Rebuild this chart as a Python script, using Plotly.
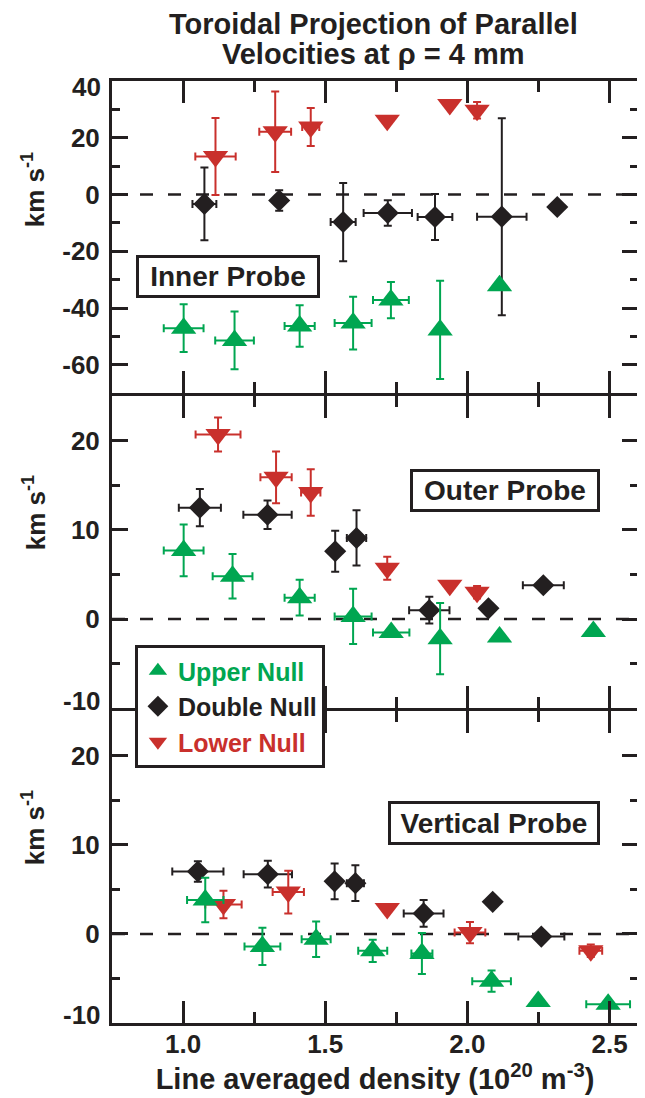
import plotly.graph_objects as go
from plotly.subplots import make_subplots

# ---------------- data ----------------
# Inner Probe (top panel)
inner_upper_x = [1.002, 1.181, 1.410, 1.598, 1.731, 1.904, 2.113]
inner_upper_y = [-47.1, -51.4, -46.3, -45.3, -37.2, -47.7, -32.1]
inner_upper_xerr = [0.070, 0.068, 0.053, 0.065, 0.063, 0, 0]
inner_upper_yerr = [8.4, 10.2, 7.3, 9.3, 6.4, 17.3, 0]

inner_double_x = [1.075, 1.338, 1.563, 1.720, 1.886, 2.121, 2.316]
inner_double_y = [-3.3, -2.1, -9.7, -6.5, -7.9, -7.8, -4.4]
inner_double_xerr = [0.042, 0, 0.044, 0.085, 0.061, 0.087, 0]
inner_double_yerr = [12.8, 3.6, 13.8, 4.5, 8.1, 34.7, 0]

inner_lower_x = [1.114, 1.324, 1.449, 1.718, 1.938, 2.034]
inner_lower_y = [13.4, 22.1, 23.8, 26.2, 31.7, 29.7]
inner_lower_xerr = [0.071, 0.056, 0.030, 0, 0, 0]
inner_lower_yerr = [13.6, 14.2, 6.7, 0, 0, 2.9]

# Outer Probe (middle panel)
outer_upper_x = [1.002, 1.174, 1.410, 1.598, 1.732, 1.904, 2.113, 2.443]
outer_upper_y = [7.7, 4.8, 2.4, 0.3, -1.5, -2.2, -2.0, -1.4]
outer_upper_xerr = [0.070, 0.070, 0.053, 0.065, 0.064, 0, 0, 0]
outer_upper_yerr = [2.9, 2.5, 2.0, 3.1, 0, 4.0, 0, 0]

outer_double_x = [1.059, 1.297, 1.535, 1.610, 1.866, 2.074, 2.267]
outer_double_y = [12.5, 11.7, 7.6, 9.1, 1.0, 1.2, 3.8]
outer_double_xerr = [0.074, 0.085, 0, 0.034, 0.071, 0, 0.072]
outer_double_yerr = [2.1, 1.6, 2.3, 3.1, 1.5, 0, 0]

outer_lower_x = [1.123, 1.327, 1.449, 1.718, 1.938, 2.034]
outer_lower_y = [20.7, 15.9, 14.2, 5.7, 3.8, 3.0]
outer_lower_xerr = [0.079, 0.055, 0.034, 0, 0, 0]
outer_lower_yerr = [1.9, 2.9, 2.6, 1.3, 0, 0.7]

# Vertical Probe (bottom panel)
vert_upper_x = [1.078, 1.279, 1.468, 1.667, 1.840, 2.085, 2.249, 2.495]
vert_upper_y = [3.8, -1.4, -0.6, -1.9, -2.2, -5.3, -7.6, -7.9]
vert_upper_xerr = [0.064, 0.063, 0.051, 0.051, 0.037, 0.068, 0, 0.077]
vert_upper_yerr = [2.5, 2.1, 2.0, 1.25, 2.3, 1.2, 0, 0]

vert_double_x = [1.052, 1.298, 1.533, 1.606, 1.846, 2.089, 2.260]
vert_double_y = [7.0, 6.7, 5.9, 5.7, 2.3, 3.6, -0.3]
vert_double_xerr = [0.090, 0.085, 0, 0.030, 0.070, 0, 0.081]
vert_double_yerr = [1.15, 1.5, 2.0, 2.0, 1.5, 0, 0]

vert_lower_x = [1.142, 1.370, 1.718, 2.009, 2.434]
vert_lower_y = [3.3, 4.7, 2.85, 0.15, -1.9]
vert_lower_xerr = [0.064, 0.055, 0, 0.054, 0.040]
vert_lower_yerr = [1.55, 2.4, 0, 1.2, 0.7]

x_tick_vals = [1.0, 1.5, 2.0, 2.5]
x_tick_text = ["1.0", "1.5", "2.0", "2.5"]
top_tick_vals = [20, 0, -20, -40, -60]
top_tick_text = ["20", "0", "-20", "-40", "-60"]
low_tick_vals = [20, 10, 0]
low_tick_text = ["20", "10", "0"]

series_names = ["Upper Null", "Double Null", "Lower Null"]
panel_labels = ["Inner Probe", "Outer Probe", "Vertical Probe"]
title_lines = ["Toroidal Projection of Parallel", "Velocities at ρ = 4 mm"]

# ---------------- style ----------------
GREEN = "#00a651"
BLACK = "#231f20"
RED = "#c9302c"
FONT = "Liberation Sans, Arial, sans-serif"

styles = {
    "Upper Null": dict(symbol="triangle-up", size=22, color=GREEN, rank=1),
    "Double Null": dict(symbol="diamond", size=17, color=BLACK, rank=2),
    "Lower Null": dict(symbol="triangle-down", size=22, color=RED, rank=3),
}

panels = [
    {"Upper Null": (inner_upper_x, inner_upper_y, inner_upper_xerr, inner_upper_yerr),
     "Double Null": (inner_double_x, inner_double_y, inner_double_xerr, inner_double_yerr),
     "Lower Null": (inner_lower_x, inner_lower_y, inner_lower_xerr, inner_lower_yerr)},
    {"Upper Null": (outer_upper_x, outer_upper_y, outer_upper_xerr, outer_upper_yerr),
     "Double Null": (outer_double_x, outer_double_y, outer_double_xerr, outer_double_yerr),
     "Lower Null": (outer_lower_x, outer_lower_y, outer_lower_xerr, outer_lower_yerr)},
    {"Upper Null": (vert_upper_x, vert_upper_y, vert_upper_xerr, vert_upper_yerr),
     "Double Null": (vert_double_x, vert_double_y, vert_double_xerr, vert_double_yerr),
     "Lower Null": (vert_lower_x, vert_lower_y, vert_lower_xerr, vert_lower_yerr)},
]


def nz(arr):
    return [v if v else None for v in arr]


# plot-area geometry (pixels) for placing paper-referenced labels
W, H = 645, 1098
ML, MR, MT, MB = 104, 13, 73, 83
PW, PH = W - ML - MR, H - MT - MB


def px(xp):
    return (xp - ML) / PW


def py(yp):
    return (H - MB - yp) / PH


fig = make_subplots(rows=3, cols=1, shared_xaxes=True, vertical_spacing=0)

draw_order = ["Double Null", "Lower Null", "Upper Null"]
for i, panel in enumerate(panels):
    for name in draw_order:
        xs, ys, xe, ye = panel[name]
        st = styles[name]
        fig.add_trace(
            go.Scatter(
                x=xs, y=ys, mode="markers",
                name=f'<span style="color:{st["color"]}">{name}</span>',
                legendgroup=name, legendrank=st["rank"],
                showlegend=(i == 0),
                marker=dict(symbol=st["symbol"], size=st["size"], color=st["color"],
                            line=dict(width=0)),
                error_x=dict(type="data", array=nz(xe), visible=True,
                             color=st["color"], thickness=2, width=4),
                error_y=dict(type="data", array=nz(ye), visible=True,
                             color=st["color"], thickness=2, width=4),
            ),
            row=i + 1, col=1,
        )

axis_common = dict(
    showline=True, linewidth=3, linecolor=BLACK, mirror="ticks",
    ticks="inside", tickwidth=2.5, tickcolor=BLACK,
    showgrid=False, zeroline=False,
    tickfont=dict(family=FONT, size=26, color=BLACK, weight="bold"),
)

for r in (1, 2, 3):
    fig.update_xaxes(
        range=[0.75, 2.6], tickmode="array", tickvals=x_tick_vals, ticktext=x_tick_text,
        ticklen=22, showticklabels=(r == 3), ticklabelstandoff=-4,
        minor=dict(ticks="inside", dtick=0.25, tick0=0.75, ticklen=11,
                   tickwidth=2.5, tickcolor=BLACK, showgrid=False),
        row=r, col=1, **axis_common,
    )

fig.update_yaxes(range=[-70, 40], tickmode="array", tickvals=top_tick_vals,
                 ticktext=top_tick_text, ticklen=16, ticklabelstandoff=4,
                 minor=dict(ticks="inside", dtick=10, tick0=0, ticklen=8,
                            tickwidth=2.5, tickcolor=BLACK, showgrid=False),
                 row=1, col=1, **axis_common)
for r in (2, 3):
    fig.update_yaxes(range=[-10, 25], tickmode="array", tickvals=low_tick_vals,
                     ticktext=low_tick_text, ticklen=16, ticklabelstandoff=4,
                     minor=dict(ticks="inside", dtick=5, tick0=0, ticklen=8,
                                tickwidth=2.5, tickcolor=BLACK, showgrid=False),
                     row=r, col=1, **axis_common)

# panels overlap by the line width so the shared frame lines coincide
fig.update_layout(
    yaxis=dict(domain=[py(385.2), 1.0]),
    yaxis2=dict(domain=[py(700.2), py(388.2)]),
    yaxis3=dict(domain=[0.0, py(703.2)]),
)

fig.update_xaxes(
    title=dict(text="Line averaged density (10<sup>20</sup> m<sup>-3</sup>)",
               font=dict(family=FONT, size=29, color=BLACK, weight="bold"), standoff=6),
    row=3, col=1,
)

# dashed zero lines
for yref, xref in (("y", "x domain"), ("y2", "x2 domain"), ("y3", "x3 domain")):
    fig.add_shape(type="line", xref=xref, yref=yref, x0=0, x1=1, y0=0, y1=0,
                  line=dict(color=BLACK, width=2.5, dash="13px,15px"), layer="below")

# title (two lines)
for txt, yc in zip(title_lines, (16, 46)):
    fig.add_annotation(x=px(366), y=py(yc), xref="paper", yref="paper", text=txt,
                       showarrow=False, xanchor="center", yanchor="middle",
                       font=dict(family=FONT, size=29, color=BLACK, weight="bold"))

# panel label boxes
box_pos = [(220, 268.5, 178, 37), (498, 482.5, 184, 37), (487, 815, 206, 38)]
for label, (bx, by, bw, bh) in zip(panel_labels, box_pos):
    fig.add_annotation(x=px(bx), y=py(by), xref="paper", yref="paper", text=label,
                       showarrow=False, xanchor="center", yanchor="middle",
                       width=bw, height=bh,
                       font=dict(family=FONT, size=28, color=BLACK, weight="bold"),
                       bgcolor="white", bordercolor=BLACK, borderwidth=3, borderpad=0)

# y tick labels at panel edges (offset as in original)
edge_labels = [("40", 79), ("-10", 692.5), ("-10", 1007)]
for txt, yy in edge_labels:
    fig.add_annotation(x=px(95), y=py(yy), xref="paper", yref="paper", text=txt,
                       showarrow=False, xanchor="right", yanchor="middle",
                       font=dict(family=FONT, size=26, color=BLACK, weight="bold"))

# y axis titles
for yy in (182, 505, 820):
    fig.add_annotation(x=px(26), y=py(yy), xref="paper", yref="paper",
                       text="km s<sup>-1</sup>", textangle=-90, showarrow=False,
                       xanchor="center", yanchor="middle",
                       font=dict(family=FONT, size=26, color=BLACK, weight="bold"))

fig.update_layout(
    width=W, height=H,
    margin=dict(l=ML, r=MR, t=MT, b=MB),
    paper_bgcolor="white", plot_bgcolor="white",
    font=dict(family=FONT, color=BLACK),
    legend=dict(x=px(127), y=py(637), xanchor="left", yanchor="top",
                bgcolor="white", bordercolor=BLACK, borderwidth=3,
                font=dict(family=FONT, size=25, weight="bold"),
                itemsizing="trace", tracegroupgap=0),
    showlegend=True,
)

fig.write_html("out.html")
